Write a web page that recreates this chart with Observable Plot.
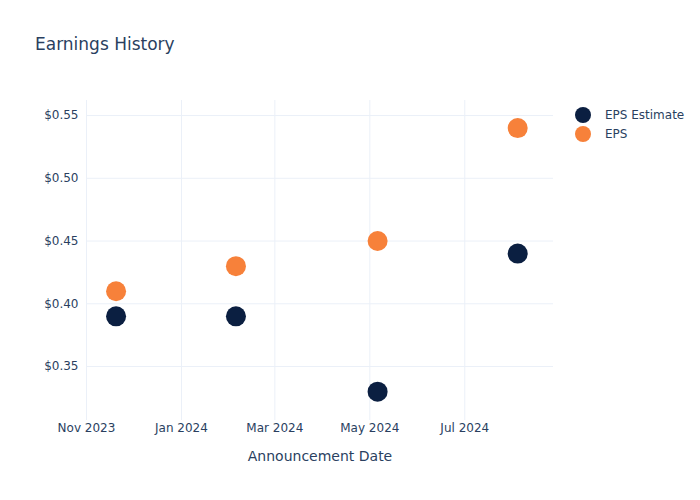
<!DOCTYPE html>
<html>
<head>
<meta charset="utf-8">
<script src="https://cdn.jsdelivr.net/npm/d3@7"></script>
<script src="https://cdn.jsdelivr.net/npm/@observablehq/plot@0.6"></script>
<style>
  html, body { margin: 0; padding: 0; background: #fff; }
  #wrap { position: relative; width: 700px; height: 500px; font-family: "DejaVu Sans", Verdana, sans-serif; color: #2a3f5f; }
  #title { position: absolute; left: 35px; top: 34px; font-size: 17px; color: #2a3f5f; white-space: nowrap; }
  #legend { position: absolute; left: 573px; top: 105px; font-size: 12px; color: #2a3f5f; }
  .item { display: flex; align-items: center; height: 19px; }
  .sw { width: 16px; height: 16px; border-radius: 50%; margin-right: 14px; margin-left: 2px; }
  svg { position: absolute; left: 0; top: 0; }
</style>
</head>
<body>
<div id="wrap">
  <div id="title">Earnings History</div>
  <div id="legend"></div>
</div>
<script>
const dates = ["2023-11-20", "2024-02-05", "2024-05-06", "2024-08-04"];
const epsEstimate = [0.39, 0.39, 0.33, 0.44];
const eps = [0.41, 0.43, 0.45, 0.54];
const seriesNames = ["EPS Estimate", "EPS"];
const seriesColors = ["#0b1f41", "#f7813a"];
const yTicks = [0.35, 0.40, 0.45, 0.50, 0.55];

const rows = [];
dates.forEach((d, i) => rows.push({date: new Date(d), value: epsEstimate[i], series: seriesNames[0]}));
dates.forEach((d, i) => rows.push({date: new Date(d), value: eps[i], series: seriesNames[1]}));

const chart = Plot.plot({
  width: 700,
  height: 500,
  marginLeft: 86,
  marginRight: 147,
  marginTop: 100,
  marginBottom: 80,
  style: {fontFamily: "DejaVu Sans, Verdana, sans-serif", fontSize: "12px", color: "#2a3f5f", background: "transparent"},
  x: {
    type: "utc",
    domain: [new Date("2023-11-01"), new Date("2024-08-27")],
    ticks: d3.utcMonth.every(2),
    tickFormat: d3.utcFormat("%b %Y"),
    tickSize: 0,
    tickPadding: 3,
    label: "Announcement Date",
    labelAnchor: "center",
    labelArrow: "none",
    labelOffset: 40
  },
  y: {
    domain: [0.307, 0.562],
    ticks: yTicks,
    tickFormat: d3.format("$.2f"),
    tickSize: 0,
    tickPadding: 8,
    label: null
  },
  color: {domain: seriesNames, range: seriesColors},
  marks: [
    Plot.gridX({ticks: d3.utcMonth.every(2), stroke: "#ebf0f8", strokeOpacity: 1}),
    Plot.gridY({ticks: yTicks, stroke: "#ebf0f8", strokeOpacity: 1}),
    Plot.dot(rows, {x: "date", y: "value", fill: "series", r: 10})
  ]
});
chart.querySelectorAll("[aria-label='x-axis label'] text, [aria-label='x-axis label']").forEach(e => { e.style.fontSize = "14px"; });
document.getElementById("wrap").appendChild(chart);

const legend = document.getElementById("legend");
seriesNames.forEach((n, i) => {
  const it = document.createElement("div");
  it.className = "item";
  const sw = document.createElement("div");
  sw.className = "sw";
  sw.style.background = seriesColors[i];
  const t = document.createElement("span");
  t.textContent = n;
  it.appendChild(sw); it.appendChild(t);
  legend.appendChild(it);
});
</script>
</body>
</html>
